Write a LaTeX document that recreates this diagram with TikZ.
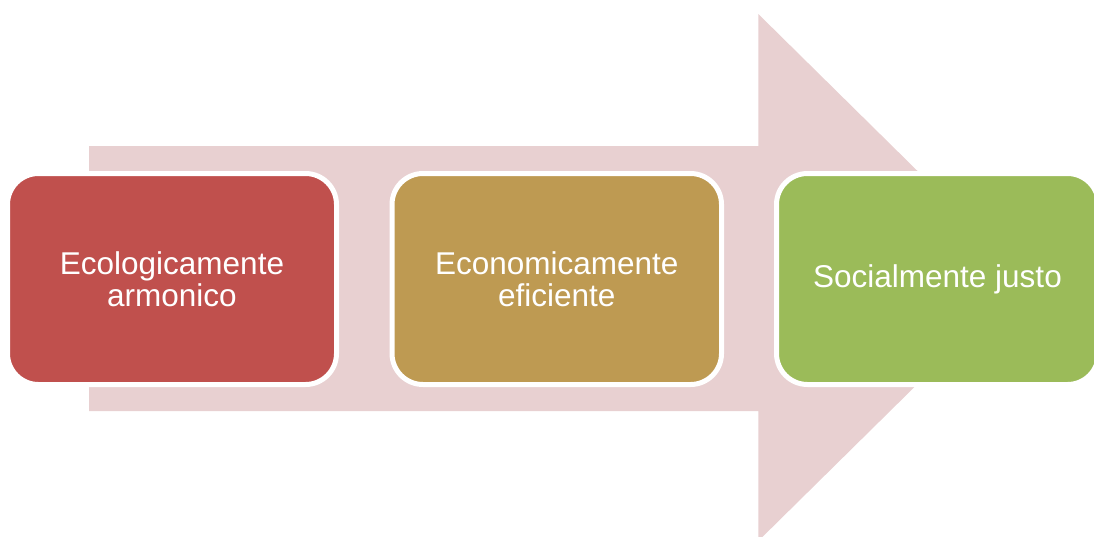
\documentclass[tikz,border=0pt]{standalone}
\usepackage{fontspec}
\setmainfont{Liberation Sans}
\definecolor{arrowpink}{HTML}{E8D0D1}
\definecolor{boxred}{HTML}{C0504D}
\definecolor{boxgold}{HTML}{BE9A52}
\definecolor{boxgreen}{HTML}{9BBB59}
\tikzset{
  stagebox/.style={draw=white, line width=5pt, rounded corners=31pt,
    minimum height=211pt, inner sep=0pt, outer sep=0pt, align=center,
    text=white, font=\fontsize{31.5}{32}\selectfont},
}
\begin{document}
\begin{tikzpicture}[x=1pt,y=-1pt]
\path[use as bounding box, clip] (0,0) rectangle (1094,536);
% big background arrow
\fill[arrowpink] (89,146) -- (758.3,146) -- (758.3,14) -- (1025.5,277.5)
  -- (758.3,541) -- (758.3,411) -- (89,411) -- cycle;
% stage boxes
\node[stagebox, fill=boxred, minimum width=329pt] (b1) at (172,279)
  {Ecologicamente\\armonico};
\node[stagebox, fill=boxgold, minimum width=329.5pt] (b2) at (556.75,279)
  {Economicamente\\eficiente};
\node[stagebox, fill=boxgreen, minimum width=322pt] (b3) at (937.5,279)
  {Socialmente justo};
\end{tikzpicture}
\end{document}
